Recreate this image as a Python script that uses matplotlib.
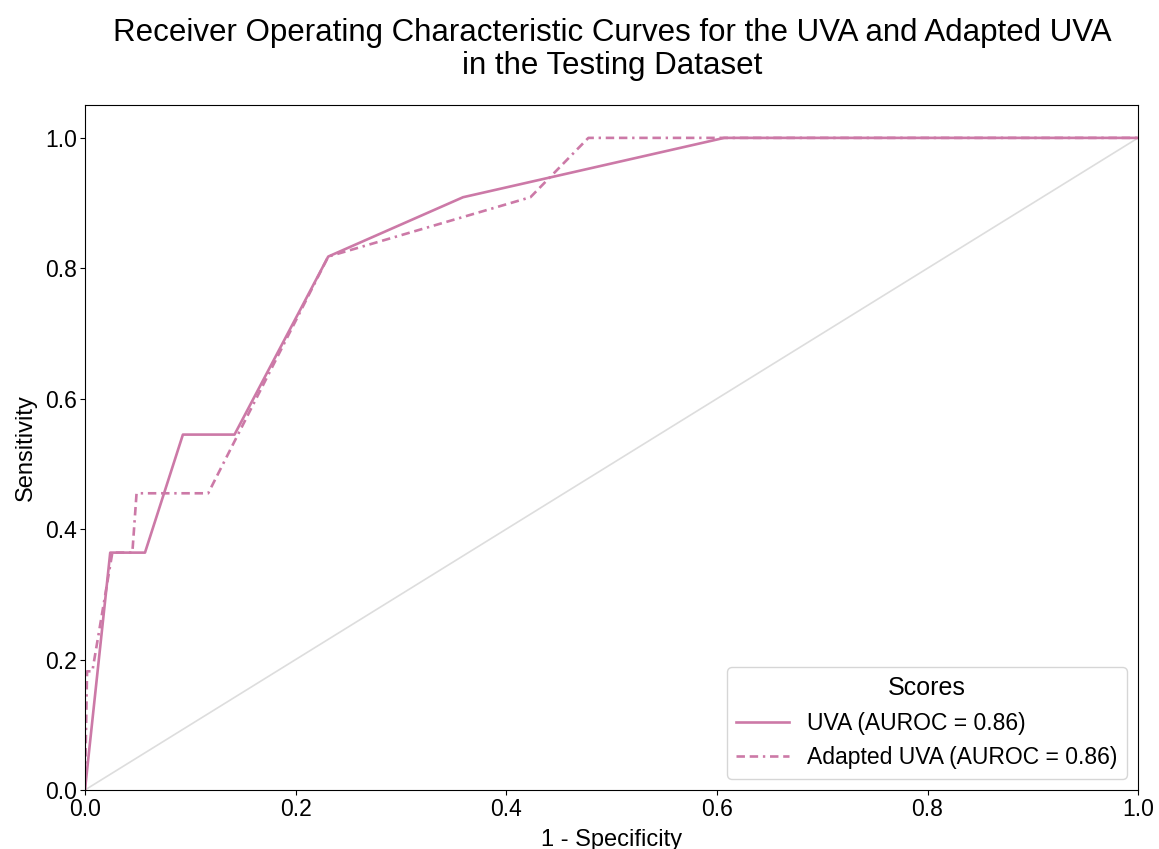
import numpy as np
import matplotlib
matplotlib.use("Agg")
import matplotlib.pyplot as plt

plt.rcParams["font.family"] = ["Liberation Sans", "DejaVu Sans"]

# ROC points (1 - specificity, sensitivity)
uva_fpr = [0.0, 0.024, 0.057, 0.093, 0.142, 0.231, 0.359, 0.607, 1.0]
uva_tpr = [0.0, 0.364, 0.364, 0.545, 0.545, 0.818, 0.909, 1.0, 1.0]

adapted_fpr = [0.0, 0.002, 0.007, 0.026, 0.045, 0.049, 0.117, 0.231, 0.423, 0.478, 1.0]
adapted_tpr = [0.0, 0.182, 0.182, 0.364, 0.364, 0.455, 0.455, 0.818, 0.909, 1.0, 1.0]

uva_auc = 0.86
adapted_auc = 0.86

color = "#CC79A7"

fig = plt.figure(figsize=(11.59, 8.49), dpi=100)
ax = fig.add_axes([0.0733, 0.0695, 0.9087, 0.8065])

# chance line
ax.plot([0, 1], [0, 1], color="#dddddd", lw=1.2, zorder=1)

ax.plot(uva_fpr, uva_tpr, color=color, lw=1.9,
        label=f"UVA (AUROC = {uva_auc:.2f})")
ax.plot(adapted_fpr, adapted_tpr, color=color, lw=1.9,
        dashes=(3.2, 1.8, 3.2, 1.8, 0.9, 1.8),
        label=f"Adapted UVA (AUROC = {adapted_auc:.2f})")

ax.set_xlim(0, 1)
ax.set_ylim(0, 1.05)
ax.set_xticks(np.arange(0, 1.01, 0.2))
ax.set_yticks(np.arange(0, 1.01, 0.2))
ax.tick_params(labelsize=16.5, pad=2)
ax.set_xlabel("1 - Specificity", fontsize=17, labelpad=6)
ax.set_ylabel("Sensitivity", fontsize=17, labelpad=6)

fig.suptitle("Receiver Operating Characteristic Curves for the UVA and Adapted UVA\nin the Testing Dataset",
             fontsize=22.5, x=0.528, y=0.979, linespacing=1.15)

leg = ax.legend(title="Scores", loc="lower right", fontsize=16.5,
                title_fontsize=18, frameon=True, borderaxespad=0.5,
                handlelength=2.3)

fig.savefig("out.png", dpi=100)
